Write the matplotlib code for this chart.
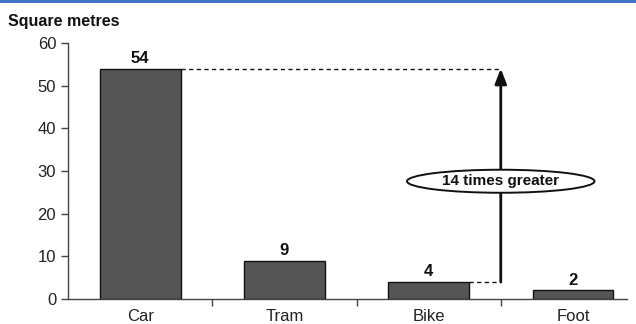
import numpy as np
import matplotlib.pyplot as plt
from matplotlib.patches import Ellipse, Rectangle

modes = ["Car", "Tram", "Bike", "Foot"]
space = [54, 9, 4, 2]
ratio_label = "14 times greater"

plt.rcParams['font.family'] = ['Liberation Sans', 'DejaVu Sans']

fig = plt.figure(figsize=(6.36, 3.24), dpi=100)
ax = fig.add_axes([68/636, 1-299/324, (627-68)/636, (299-43)/324])

x = np.arange(len(modes))
width = 0.56
bars = ax.bar(x, space, width=width, color='#555555', edgecolor='#111111', linewidth=1)
for xi, v in zip(x, space):
    ax.text(xi, v + 0.6, str(v), ha='center', va='bottom', fontsize=12, fontweight='bold', color='#111111')

# car vs bike comparison
ax_x = 2.5
ax.plot([0 + width/2, ax_x], [space[0], space[0]], ls=(0, (3, 2.5)), color='#111111', lw=1)
ax.plot([2 + width/2, ax_x], [space[2], space[2]], ls=(0, (3, 2.5)), color='#111111', lw=1)
ax.annotate('', xy=(ax_x, space[0]), xytext=(ax_x, space[2]),
            arrowprops=dict(arrowstyle='-|>,head_length=0.9,head_width=0.35', color='#111111', lw=2,
                            shrinkA=0, shrinkB=0))
ax.add_patch(Ellipse((ax_x, 27.6), 1.3, 5.4, facecolor='white', edgecolor='#111111', lw=1.4, zorder=3))
ax.text(ax_x, 27.6, ratio_label, ha='center', va='center', fontsize=11, fontweight='bold',
        color='#111111', zorder=4)

ax.set_ylim(0, 60)
ax.set_xlim(-0.5, 3.375)
ax.set_yticks(range(0, 61, 10))
ax.set_xticks(x)
ax.set_xticklabels(modes)
ax.set_xticks([0.5, 1.5, 2.5], minor=True)
ax.tick_params(axis='x', which='major', length=0, pad=7, labelsize=12, labelcolor='#222222')
ax.tick_params(axis='x', which='minor', length=5, width=1, color='#444444')
ax.tick_params(axis='y', length=5, width=1, color='#444444', labelsize=12, labelcolor='#222222')
for s in ['top', 'right']:
    ax.spines[s].set_visible(False)
for s in ['left', 'bottom']:
    ax.spines[s].set_color('#444444')
    ax.spines[s].set_linewidth(1)

fig.text(8/636, 1-26/324, "Square metres", fontsize=11.5, fontweight='bold', color='#111111', va='baseline')
fig.patches.append(Rectangle((0, 1-3/324), 1, 3/324, transform=fig.transFigure,
                             facecolor='#4472c4', edgecolor='none'))

fig.savefig('out.png', dpi=100)
